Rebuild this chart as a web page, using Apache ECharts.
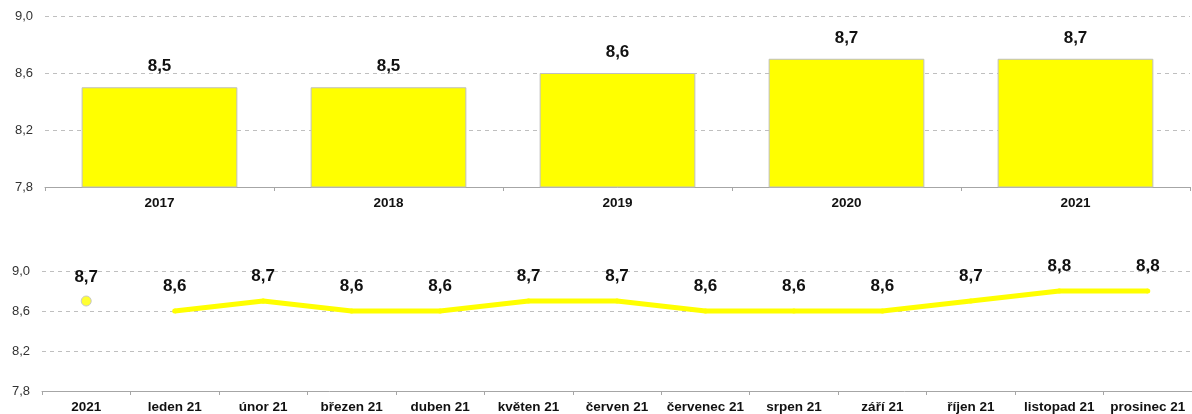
<!DOCTYPE html>
<html>
<head>
<meta charset="utf-8">
<script src="https://cdn.jsdelivr.net/npm/echarts@6/dist/echarts.min.js"></script>
<style>
  html, body { margin: 0; padding: 0; background: #fff; }
  #chart { width: 1192px; height: 414px; }
</style>
</head>
<body>
<div id="chart"></div>
<script>
// yearly averages
const years = ['2017', '2018', '2019', '2020', '2021']
const yearValues = [8.5, 8.5, 8.6, 8.7, 8.7]

// monthly values for 2021 (first category is the 2021 average shown as a dot)
const months = ['2021', 'leden 21', 'únor 21', 'březen 21', 'duben 21', 'květen 21', 'červen 21',
  'červenec 21', 'srpen 21', 'září 21', 'říjen 21', 'listopad 21', 'prosinec 21']
const yearDot = [8.7, '-', '-', '-', '-', '-', '-', '-', '-', '-', '-', '-', '-']
const monthValues = ['-', 8.6, 8.7, 8.6, 8.6, 8.7, 8.7, 8.6, 8.6, 8.6, 8.7, 8.8, 8.8]

const yTicks = { min: 7.8, max: 9.0, interval: 0.4 }

const YELLOW = '#ffff00'
const fmt = v => v.toFixed(1).replace('.', ',')

const valueLabel = {
  show: true,
  position: 'top',
  fontFamily: 'Liberation Sans',
  fontWeight: 'bold',
  fontSize: 17,
  color: '#111',
  formatter: p => fmt(p.value)
}

const catAxis = (gridIndex, data) => ({
  type: 'category',
  gridIndex,
  data,
  axisLine: { lineStyle: { color: '#a6a6a6' } },
  axisTick: { show: true, interval: 0, length: 4, lineStyle: { color: '#a6a6a6' } },
  axisLabel: {
    interval: 0,
    color: '#111',
    fontFamily: 'Liberation Sans',
    fontWeight: 'bold',
    fontSize: 13.5,
    margin: 9
  }
})

const valAxis = gridIndex => ({
  type: 'value',
  gridIndex,
  min: yTicks.min,
  max: yTicks.max,
  interval: yTicks.interval,
  axisLine: { show: false },
  axisTick: { show: false },
  axisLabel: {
    color: '#333',
    fontFamily: 'Liberation Sans',
    fontSize: 13,
    margin: 12,
    formatter: v => fmt(v)
  },
  splitLine: { lineStyle: { color: '#bfbfbf', type: [4, 4] } }
})

const chart = echarts.init(document.getElementById('chart'))
chart.setOption({
  animation: false,
  grid: [
    { left: 45, right: 2, top: 16, height: 171 },
    { left: 42, right: -3, top: 271, height: 121 }
  ],
  xAxis: [catAxis(0, years), catAxis(1, months)],
  yAxis: [valAxis(0), valAxis(1)],
  series: [
    {
      type: 'bar',
      xAxisIndex: 0,
      yAxisIndex: 0,
      data: yearValues,
      barWidth: '68%',
      itemStyle: { color: YELLOW, borderColor: '#bfbfbf', borderWidth: 1 },
      label: { ...valueLabel, distance: 12 }
    },
    {
      type: 'line',
      xAxisIndex: 1,
      yAxisIndex: 1,
      data: yearDot,
      symbol: 'circle',
      symbolSize: 10,
      itemStyle: { color: '#ffff33', borderColor: '#c8c8c8', borderWidth: 1 },
      label: { ...valueLabel, distance: 10 }
    },
    {
      type: 'line',
      xAxisIndex: 1,
      yAxisIndex: 1,
      data: monthValues,
      symbol: 'circle',
      symbolSize: 5,
      itemStyle: { color: YELLOW },
      lineStyle: { color: YELLOW, width: 5 },
      label: { ...valueLabel, distance: 14 }
    }
  ]
})
</script>
</body>
</html>
